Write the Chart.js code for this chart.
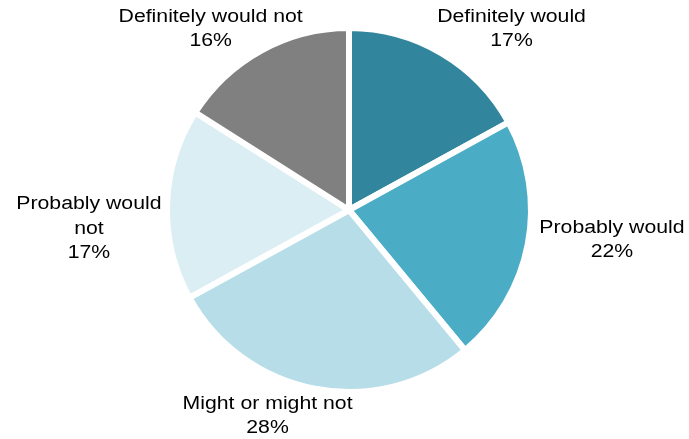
<!DOCTYPE html>
<html>
<head>
<meta charset="utf-8">
<script src="https://cdn.jsdelivr.net/npm/chart.js@4"></script>
<style>
  html, body { margin: 0; padding: 0; background: #fff; }
  #wrap { width: 689px; height: 439px; }
</style>
</head>
<body>
<div id="wrap"><canvas id="pieChart"></canvas></div>
<script>
// answers, clockwise from 12 o'clock
const categories = [
  "Definitely would",
  "Probably would",
  "Might or might not",
  "Probably would not",
  "Definitely would not",
];
const shares = [17, 22, 28, 17, 16];
const sliceColors = ["#31859c", "#4bacc6", "#b7dee8", "#daeef3", "#808080"];

// label lines (wrapped like the original) and where they sit, in radius units from the centre
const labelLines = [
  ["Definitely would"],
  ["Probably would"],
  ["Might or might not"],
  ["Probably would", "not"],
  ["Definitely would not"],
];
const labelSpots = [
  [0.908, -1.011],
  [1.469, 0.168],
  [-0.455, 1.151],
  [-1.453, 0.106],
  [-0.773, -1.011],
];

// draws the outside labels with the percentage under the name
const outsideLabels = {
  id: "outsideLabels",
  afterDatasetsDraw(chart) {
    const ctx = chart.ctx;
    const meta = chart.getDatasetMeta(0);
    const total = shares.reduce((a, b) => a + b, 0);
    ctx.save();
    ctx.fillStyle = "#000";
    ctx.font = "18px 'Liberation Sans', Arial, sans-serif";
    ctx.textAlign = "center";
    ctx.textBaseline = "middle";
    meta.data.forEach((arc, i) => {
      const r = arc.outerRadius - 3;
      const lines = labelLines[i].concat([Math.round(shares[i] / total * 100) + "%"]);
      const lh = 24.5;
      const cx = arc.x + labelSpots[i][0] * r;
      const cy = arc.y + labelSpots[i][1] * r - (lines.length - 1) * lh / 2;
      lines.forEach((t, k) => {
        // the original text is a bit wider than plain Arial
        ctx.save();
        ctx.translate(cx, cy + k * lh);
        ctx.scale(1.18, 1);
        ctx.fillText(t, 0, 0);
        ctx.restore();
      });
    });
    ctx.restore();
  }
};

const ctx = document.getElementById("pieChart").getContext("2d");
new Chart(ctx, {
  type: "pie",
  data: {
    labels: categories,
    datasets: [{
      data: shares,
      backgroundColor: sliceColors,
      borderColor: "#ffffff",
      borderWidth: 6,
    }],
  },
  options: {
    responsive: true,
    maintainAspectRatio: false,
    animation: false,
    layout: { padding: { left: 164, right: 155, top: 25, bottom: 44 } },
    plugins: {
      legend: { display: false },
      tooltip: { enabled: false },
    },
  },
  plugins: [outsideLabels],
});
</script>
</body>
</html>
